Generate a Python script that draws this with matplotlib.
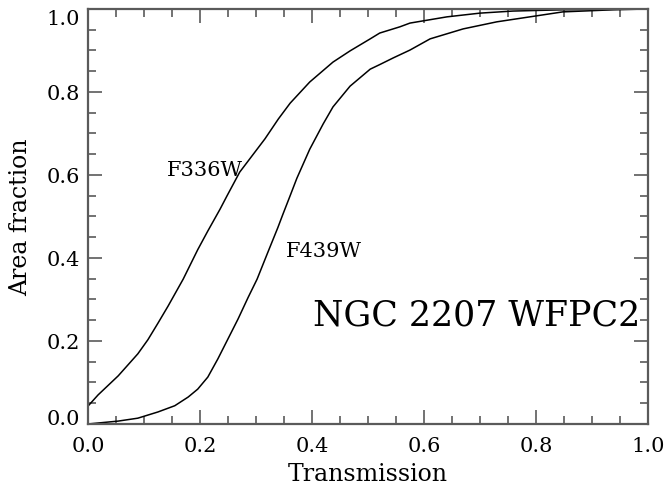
import numpy as np
import matplotlib
matplotlib.use('Agg')
import matplotlib.pyplot as plt

# cumulative area fraction vs transmission
t336 = [0.0, 0.018, 0.054, 0.089, 0.107, 0.125, 0.143, 0.17, 0.196,
        0.214, 0.236, 0.248, 0.271, 0.316, 0.34, 0.361, 0.396, 0.4375, 0.468,
        0.504, 0.521, 0.557, 0.575, 0.641, 0.7, 0.759, 0.848, 1.0]
f336 = [0.043, 0.07, 0.116, 0.169, 0.203, 0.243, 0.284, 0.349, 0.42,
        0.465, 0.518, 0.549, 0.607, 0.687, 0.735, 0.773, 0.824, 0.872, 0.899,
        0.928, 0.942, 0.957, 0.966, 0.981, 0.99, 0.995, 0.998, 1.0]

t439 = [0.0, 0.054, 0.089, 0.125, 0.155, 0.179, 0.196, 0.214, 0.232, 0.25,
        0.268, 0.286, 0.302, 0.321, 0.339, 0.348, 0.361, 0.373, 0.396, 0.42,
        0.4375, 0.468, 0.504, 0.521, 0.545, 0.575, 0.611, 0.67, 0.73, 0.789,
        0.848, 0.9375, 1.0]
f439 = [0.0, 0.007, 0.014, 0.029, 0.044, 0.065, 0.084, 0.113, 0.157, 0.205,
        0.253, 0.305, 0.349, 0.413, 0.473, 0.505, 0.55, 0.592, 0.662, 0.723,
        0.764, 0.814, 0.855, 0.866, 0.882, 0.901, 0.928, 0.952, 0.969, 0.981,
        0.993, 0.998, 1.0]

ticks = [0.0, 0.2, 0.4, 0.6, 0.8, 1.0]
tick_labels = ['0.0', '0.2', '0.4', '0.6', '0.8', '1.0']

plt.rcParams['font.family'] = ['DejaVu Serif']

fig = plt.figure(figsize=(6.68, 4.89), dpi=100)
ax = fig.add_axes([0.1317, 0.1309, 0.8383, 0.8487])

ax.plot(t336, f336, color='black', lw=1.1)
ax.plot(t439, f439, color='black', lw=1.1)

ax.set_xlim(0, 1)
ax.set_ylim(0, 1)
ax.set_xticks(ticks)
ax.set_xticklabels(tick_labels)
ax.set_yticks(ticks)
ax.set_yticklabels(tick_labels)
ax.set_xticks(np.arange(0, 1.001, 0.05), minor=True)
ax.set_yticks(np.arange(0, 1.001, 0.05), minor=True)

spine_col = '#5a5a5a'
for s in ax.spines.values():
    s.set_color(spine_col)
    s.set_linewidth(1.6)
ax.tick_params(which='both', direction='in', top=True, right=True,
               color=spine_col, width=1.2, labelsize=15)
ax.tick_params(which='major', length=10)
ax.tick_params(which='minor', length=6)
ax.tick_params(axis='x', pad=9)
ax.tick_params(axis='y', pad=6)

# keep the end labels inside the axis range, like the original
yt = ax.yaxis.get_major_ticks()
yt[0].label1.set_va('baseline')
yt[-1].label1.set_va('top')

ax.set_xlabel('Transmission', fontsize=17, labelpad=5)
ax.set_ylabel('Area fraction', fontsize=17, labelpad=10)

ax.text(0.141, 0.614, 'F336W', fontsize=15, va='center', ha='left')
ax.text(0.354, 0.417, 'F439W', fontsize=15, va='center', ha='left')
ax.text(0.402, 0.265, 'NGC 2207 WFPC2', fontsize=25, va='center', ha='left')

fig.savefig('out.png', dpi=100)
